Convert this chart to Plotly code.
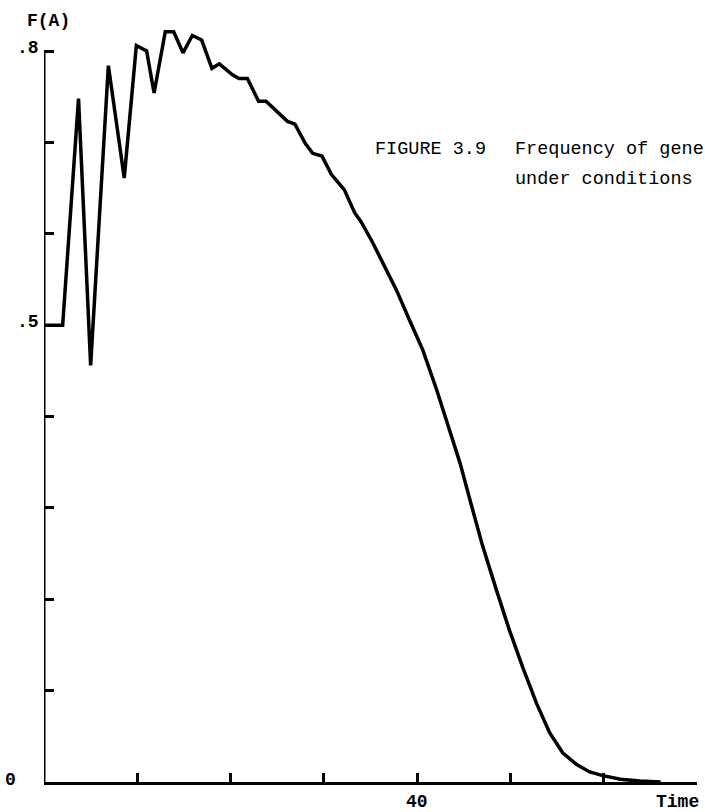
import plotly.graph_objects as go

# Frequency of allele A over time (generations)
time = [0, 2.0, 3.7, 5.0, 6.9, 8.6, 9.9, 11.0, 11.8, 13.0, 13.9, 14.9, 15.9,
        16.9, 18.0, 18.8, 20.2, 20.9, 21.8, 23.0, 23.8, 24.9, 26.1, 26.9, 28.0,
        28.8, 29.8, 30.8, 32.2, 33.3, 34.0, 35.2, 36.3, 37.8, 39.2, 40.6, 42.1,
        43.5, 44.6, 45.6, 47.0, 48.5, 49.9, 51.3, 52.8, 54.2, 55.6, 57.1, 58.5,
        59.9, 61.8, 63.9, 66.1]
freq_a = [0.500, 0.500, 0.748, 0.456, 0.784, 0.661, 0.806, 0.800, 0.754, 0.821,
          0.821, 0.798, 0.817, 0.812, 0.781, 0.786, 0.774, 0.770, 0.770, 0.745,
          0.745, 0.734, 0.723, 0.720, 0.699, 0.688, 0.685, 0.665, 0.648, 0.623,
          0.613, 0.591, 0.568, 0.538, 0.505, 0.473, 0.429, 0.385, 0.349, 0.311,
          0.259, 0.210, 0.166, 0.126, 0.086, 0.054, 0.032, 0.019, 0.011, 0.007,
          0.003, 0.001, 0.000]

x_ticks = [10, 20, 30, 40, 50, 60, 70]
y_ticks = [0.1, 0.2, 0.3, 0.4, 0.5, 0.6, 0.7, 0.8]
y_labels = {0.8: ".8", 0.5: ".5"}

MONO = "Liberation Mono, Courier New, monospace"
INK = "black"

fig = go.Figure()
fig.add_trace(go.Scatter(
    x=time, y=freq_a, mode="lines",
    line=dict(color=INK, width=3.5),
    hoverinfo="skip", showlegend=False,
))

# vertical axis stops at .8
fig.add_shape(type="line", xref="x", yref="y", x0=0, x1=0, y0=0, y1=0.8,
              line=dict(color=INK, width=3))

label_font = dict(family=MONO, size=18, color=INK, weight="bold")
caption_font = dict(family=MONO, size=18.5, color=INK)

ann = []
for v, txt in y_labels.items():
    ann.append(dict(x=0, y=v, xref="x", yref="y", text=txt, showarrow=False,
                    xanchor="right", yanchor="middle", xshift=-3, yshift=3,
                    font=label_font))
ann.append(dict(x=0, y=0, xref="x", yref="y", text="0", showarrow=False,
                xanchor="right", yanchor="middle", xshift=-26, yshift=2,
                font=label_font))
ann.append(dict(x=40, y=0, xref="x", yref="y", text="40", showarrow=False,
                xanchor="center", yanchor="top", yshift=-8, font=label_font))
ann.append(dict(x=70, y=0, xref="x", yref="y", text="Time", showarrow=False,
                xanchor="right", yanchor="top", xshift=4, yshift=-8,
                font=label_font))
ann.append(dict(x=0, y=0.8, xref="x", yref="y", text="F(A)", showarrow=False,
                xanchor="center", yanchor="bottom", xshift=4, yshift=18,
                font=label_font))
ann.append(dict(x=0.5038, y=0.824, xref="paper", yref="paper",
                text="FIGURE 3.9", showarrow=False, xanchor="left",
                yanchor="middle", font=caption_font))
ann.append(dict(x=0.7182, y=0.824, xref="paper", yref="paper",
                text="Frequency of gene", showarrow=False, xanchor="left",
                yanchor="middle", font=caption_font))
ann.append(dict(x=0.7182, y=0.785, xref="paper", yref="paper",
                text="under conditions", showarrow=False, xanchor="left",
                yanchor="middle", font=caption_font))

fig.update_layout(
    width=705, height=812,
    margin=dict(l=44, r=8, t=15, b=30),
    paper_bgcolor="white", plot_bgcolor="white",
    showlegend=False,
    annotations=ann,
    xaxis=dict(range=[0, 70], showgrid=False, zeroline=False,
               showline=True, linecolor=INK, linewidth=3,
               ticks="inside", ticklen=9, tickwidth=2.5, tickcolor=INK,
               tickvals=x_ticks, showticklabels=False, fixedrange=True),
    yaxis=dict(range=[0, 0.8394], showgrid=False, zeroline=False,
               showline=False, ticks="inside", ticklen=10, tickwidth=3,
               tickcolor=INK, tickvals=y_ticks, showticklabels=False,
               fixedrange=True),
)

fig.write_html("out.html")
